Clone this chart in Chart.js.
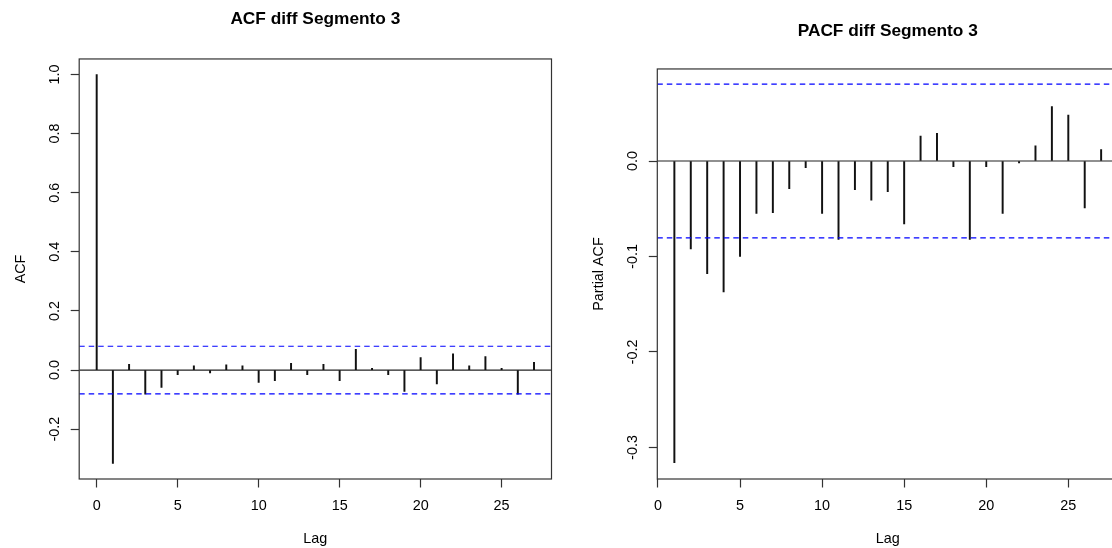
<!DOCTYPE html>
<html><head><meta charset="utf-8">
<script src="https://cdn.jsdelivr.net/npm/chart.js@4.4.1/dist/chart.umd.min.js"></script>
<style>
html,body{margin:0;padding:0;background:#fff;overflow:hidden;width:1112px;height:548px;position:relative;}
#c1{position:absolute;left:0;top:0;width:631px;height:548px;}
#c2{position:absolute;left:580px;top:0;width:616px;height:548px;}
</style></head><body>
<canvas id="c1" width="631" height="548"></canvas>
<canvas id="c2" width="616" height="548"></canvas>
<script>
// ---- data ----
const acfLags = [0,1,2,3,4,5,6,7,8,9,10,11,12,13,14,15,16,17,18,19,20,21,22,23,24,25,26,27];
const acfValues = [1.000,-0.316,0.019,-0.082,-0.059,-0.016,0.014,-0.010,0.018,0.014,-0.042,-0.036,0.023,-0.016,0.019,-0.036,0.070,0.006,-0.016,-0.072,0.042,-0.047,0.055,0.014,0.046,0.006,-0.082,0.026];
const pacfLags = [1,2,3,4,5,6,7,8,9,10,11,12,13,14,15,16,17,18,19,20,21,22,23,24,25,26,27];
const pacfValues = [-0.316,-0.092,-0.118,-0.137,-0.100,-0.055,-0.054,-0.029,-0.007,-0.055,-0.082,-0.030,-0.041,-0.032,-0.066,0.026,0.029,-0.006,-0.082,-0.006,-0.055,-0.002,0.016,0.057,0.048,-0.049,0.012];
const confLimit = 0.0805;
const lagTicks = [0,5,10,15,20,25];
const acfYTicks = [-0.2,0.0,0.2,0.4,0.6,0.8,1.0];
const pacfYTicks = [-0.3,-0.2,-0.1,0.0];
const acfXRange = [-1.08, 28.08];
const acfYRange = [-0.3686, 1.0526];
const pacfXRange = [-0.04, 28.04];
const pacfYRange = [-0.333, 0.0964];

// ---- styling / build ----
const FAM = '"Liberation Sans", Arial, sans-serif';
const baseFont = {family: FAM, size: 14.4, lineHeight: 1.2};
const titleFont = {family: FAM, size: 17.3, weight: 'bold', lineHeight: 1.2};

const boxPlugin = {
  id: 'box',
  afterDatasetsDraw(chart) {
    const {ctx, chartArea: a} = chart;
    ctx.save();
    ctx.strokeStyle = '#333';
    ctx.lineWidth = 1.2;
    ctx.strokeRect(a.left, a.top, a.right - a.left, a.bottom - a.top);
    ctx.restore();
  }
};

function makeChart(id, cfg) {
  const gridX = {display: true, offset: false, drawOnChartArea: false, drawTicks: true, tickLength: 8.5, tickColor: '#333', tickWidth: 1.2, color: '#333'};
  const gridY = {display: true, offset: false, drawOnChartArea: false, drawTicks: true, tickLength: 8.5, tickColor: '#333', tickWidth: 1.2, color: '#333'};
  return new Chart(document.getElementById(id), {
    type: 'bar',
    data: {
      datasets: [
        {type: 'line', data: [{x: cfg.xr[0], y: 0}, {x: cfg.xr[1], y: 0}], borderColor: '#222', borderWidth: 1.2, pointRadius: 0, fill: false, order: 3},
        {type: 'line', data: [{x: cfg.xr[0], y: confLimit}, {x: cfg.xr[1], y: confLimit}], borderColor: '#0000ff', borderWidth: 1.2, borderDash: [5.5, 4], pointRadius: 0, fill: false, order: 1},
        {type: 'line', data: [{x: cfg.xr[0], y: -confLimit}, {x: cfg.xr[1], y: -confLimit}], borderColor: '#0000ff', borderWidth: 1.2, borderDash: [5.5, 4], pointRadius: 0, fill: false, order: 1},
        {type: 'bar', data: cfg.lags.map((l, i) => ({x: l, y: cfg.vals[i]})), backgroundColor: '#111', borderWidth: 0, barThickness: 1.3, grouped: false, order: 2}
      ]
    },
    options: {
      responsive: false,
      devicePixelRatio: 1,
      animation: false,
      layout: {padding: {left: 0, right: cfg.padRight, top: 0, bottom: 0}},
      plugins: {
        legend: {display: false},
        tooltip: {enabled: false},
        title: {display: true, fullSize: false, text: cfg.title, font: titleFont, color: '#000', padding: {top: cfg.titleTop, bottom: cfg.titleBottom}}
      },
      scales: {
        x: {
          type: 'linear', min: cfg.xr[0], max: cfg.xr[1], offset: false,
          afterBuildTicks: s => { s.ticks = lagTicks.map(v => ({value: v})); },
          afterFit: s => { s.height = 69; },
          grid: gridX, border: {display: false},
          ticks: {font: baseFont, color: '#000', padding: 9.9, maxRotation: 0, autoSkip: false, callback: v => String(v)},
          title: {display: true, text: 'Lag', font: baseFont, color: '#000', padding: {top: 0, bottom: 0}}
        },
        y: {
          type: 'linear', min: cfg.yr[0], max: cfg.yr[1],
          afterBuildTicks: s => { s.ticks = cfg.yTicks.map(v => ({value: v})); },
          afterFit: s => { s.width = cfg.yWidth; },
          grid: gridY, border: {display: false},
          ticks: {font: baseFont, color: '#000', padding: 3.5, minRotation: 90, maxRotation: 90, crossAlign: 'center', autoSkip: false, callback: v => Number(v).toFixed(1)},
          title: {display: true, text: cfg.yTitle, font: baseFont, color: '#000', padding: {top: cfg.yTitlePad, bottom: 0}}
        }
      }
    },
    plugins: [boxPlugin]
  });
}

makeChart('c1', {
  title: 'ACF diff Segmento 3', yTitle: 'ACF', lags: acfLags, vals: acfValues,
  xr: acfXRange, yr: acfYRange, yTicks: acfYTicks, yWidth: 79.2, padRight: 79.5,
  titleTop: 8.4, titleBottom: 29.8, yTitlePad: 12.4
});
makeChart('c2', {
  title: 'PACF diff Segmento 3', yTitle: 'Partial ACF', lags: pacfLags, vals: pacfValues,
  xr: pacfXRange, yr: pacfYRange, yTicks: pacfYTicks, yWidth: 77.3, padRight: 77.8,
  titleTop: 20.4, titleBottom: 27.8, yTitlePad: 10.7
});
</script>
</body></html>
